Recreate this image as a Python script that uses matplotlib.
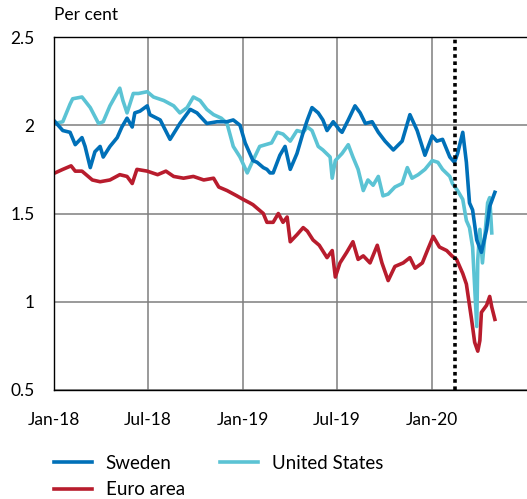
import matplotlib
matplotlib.use("Agg")
import matplotlib.pyplot as plt
import pandas as pd

plt.rcParams['font.family'] = ['Lato', 'DejaVu Sans']

# ---- data (per cent) ----
sweden_dates = ['2018-01-03', '2018-01-18', '2018-02-01', '2018-02-11', '2018-02-24', '2018-03-02',
                '2018-03-12', '2018-03-21', '2018-03-31', '2018-04-06', '2018-04-19', '2018-05-03',
                '2018-05-12', '2018-05-22', '2018-06-01', '2018-06-06', '2018-06-16', '2018-06-30',
                '2018-07-05', '2018-07-25', '2018-08-13', '2018-09-01', '2018-09-21', '2018-10-04',
                '2018-10-23', '2018-11-12', '2018-12-01', '2018-12-13', '2018-12-26', '2019-01-05',
                '2019-01-14', '2019-01-20', '2019-01-28', '2019-02-09', '2019-02-16', '2019-02-22',
                '2019-02-28', '2019-03-13', '2019-03-23', '2019-04-02', '2019-04-15', '2019-04-27',
                '2019-05-05', '2019-05-14', '2019-05-26', '2019-06-04', '2019-06-12', '2019-06-24',
                '2019-07-07', '2019-07-11', '2019-07-23', '2019-08-05', '2019-08-15', '2019-08-25',
                '2019-09-07', '2019-09-19', '2019-10-02', '2019-10-18', '2019-11-04', '2019-11-19',
                '2019-12-03', '2019-12-18', '2020-01-01', '2020-01-10', '2020-01-21', '2020-02-04',
                '2020-02-13', '2020-02-19', '2020-02-29', '2020-03-07', '2020-03-13', '2020-03-19',
                '2020-03-27', '2020-04-05', '2020-04-15', '2020-04-21', '2020-05-01']
sweden = [2.02, 1.97, 1.96, 1.89, 1.93, 1.88, 1.76, 1.85, 1.88, 1.82, 1.88, 1.93,
          1.99, 2.04, 1.99, 2.07, 2.08, 2.11, 2.06, 2.03, 1.92, 2.01, 2.09, 2.07,
          2.01, 2.02, 2.02, 2.03, 2.00, 1.90, 1.84, 1.80, 1.79, 1.76, 1.75, 1.73,
          1.73, 1.83, 1.88, 1.75, 1.84, 1.96, 2.03, 2.10, 2.07, 2.03, 1.97, 2.02,
          1.97, 1.96, 2.03, 2.11, 2.07, 2.01, 2.02, 1.96, 1.91, 1.86, 1.91, 2.06,
          1.97, 1.83, 1.94, 1.91, 1.92, 1.82, 1.79, 1.84, 1.96, 1.79, 1.56, 1.52,
          1.35, 1.28, 1.41, 1.54, 1.62]

euro_dates = ['2018-01-03', '2018-01-18', '2018-02-03', '2018-02-11', '2018-02-24', '2018-03-16',
              '2018-03-31', '2018-04-19', '2018-05-08', '2018-05-22', '2018-06-01', '2018-06-10',
              '2018-06-30', '2018-07-20', '2018-08-05', '2018-08-20', '2018-09-08', '2018-09-27',
              '2018-10-17', '2018-11-05', '2018-11-15', '2018-12-01', '2018-12-20', '2019-01-01',
              '2019-01-14', '2019-01-20', '2019-02-09', '2019-02-16', '2019-02-28', '2019-03-10',
              '2019-03-19', '2019-03-27', '2019-04-02', '2019-04-15', '2019-04-27', '2019-05-05',
              '2019-05-16', '2019-05-28', '2019-06-12', '2019-06-22', '2019-06-28', '2019-07-07',
              '2019-07-20', '2019-08-01', '2019-08-11', '2019-08-21', '2019-09-03', '2019-09-17',
              '2019-09-26', '2019-10-08', '2019-10-21', '2019-11-06', '2019-11-19', '2019-11-29',
              '2019-12-13', '2019-12-24', '2020-01-03', '2020-01-15', '2020-01-29', '2020-02-08',
              '2020-02-17', '2020-02-29', '2020-03-07', '2020-03-17', '2020-03-23', '2020-03-29',
              '2020-04-02', '2020-04-05', '2020-04-15', '2020-04-21', '2020-04-25', '2020-05-01']
euro = [1.73, 1.75, 1.77, 1.74, 1.74, 1.69, 1.68, 1.69, 1.72, 1.71, 1.67, 1.75,
        1.74, 1.72, 1.74, 1.71, 1.70, 1.71, 1.69, 1.70, 1.65, 1.63, 1.60, 1.58,
        1.56, 1.55, 1.50, 1.45, 1.45, 1.50, 1.45, 1.48, 1.34, 1.38, 1.42, 1.40,
        1.35, 1.32, 1.25, 1.29, 1.14, 1.22, 1.28, 1.34, 1.24, 1.26, 1.22, 1.32,
        1.22, 1.12, 1.20, 1.22, 1.25, 1.19, 1.22, 1.30, 1.37, 1.31, 1.29, 1.26,
        1.24, 1.16, 1.10, 0.90, 0.77, 0.72, 0.78, 0.94, 0.98, 1.03, 0.97, 0.90]

us_dates = ['2018-01-03', '2018-01-18', '2018-02-01', '2018-02-06', '2018-02-24', '2018-03-12',
            '2018-03-28', '2018-04-06', '2018-04-19', '2018-05-08', '2018-05-14', '2018-05-22',
            '2018-06-03', '2018-06-13', '2018-06-30', '2018-07-12', '2018-08-01', '2018-08-20',
            '2018-09-01', '2018-09-15', '2018-09-27', '2018-10-10', '2018-10-23', '2018-11-05',
            '2018-11-20', '2018-12-01', '2018-12-13', '2018-12-26', '2019-01-09', '2019-01-20',
            '2019-02-02', '2019-02-25', '2019-03-08', '2019-03-19', '2019-04-02', '2019-04-15',
            '2019-04-27', '2019-05-05', '2019-05-14', '2019-05-26', '2019-06-04', '2019-06-18',
            '2019-06-22', '2019-06-28', '2019-07-11', '2019-07-23', '2019-08-01', '2019-08-11',
            '2019-08-21', '2019-08-30', '2019-09-09', '2019-09-19', '2019-09-28', '2019-10-08',
            '2019-10-21', '2019-11-04', '2019-11-14', '2019-11-23', '2019-12-05', '2019-12-18',
            '2020-01-01', '2020-01-12', '2020-01-21', '2020-02-04', '2020-02-09', '2020-02-19',
            '2020-02-29', '2020-03-07', '2020-03-13', '2020-03-19', '2020-03-27', '2020-03-29',
            '2020-04-02', '2020-04-07', '2020-04-11', '2020-04-17', '2020-04-21', '2020-04-25']
us = [2.01, 2.02, 2.12, 2.15, 2.16, 2.10, 2.01, 2.02, 2.11, 2.21, 2.14, 2.07,
      2.18, 2.18, 2.19, 2.16, 2.14, 2.11, 2.07, 2.10, 2.16, 2.14, 2.09, 2.06,
      2.04, 2.01, 1.88, 1.82, 1.73, 1.80, 1.88, 1.90, 1.96, 1.95, 1.91, 1.97,
      1.96, 1.99, 1.97, 1.88, 1.86, 1.82, 1.70, 1.80, 1.84, 1.89, 1.82, 1.75,
      1.63, 1.69, 1.66, 1.71, 1.60, 1.61, 1.65, 1.67, 1.76, 1.70, 1.72, 1.75,
      1.80, 1.79, 1.75, 1.71, 1.67, 1.63, 1.58, 1.46, 1.42, 1.31, 0.86, 1.24,
      1.41, 1.22, 1.35, 1.56, 1.59, 1.39]

event_date = '2020-02-14'
x_ticks = ['2018-01-01', '2018-07-01', '2019-01-01', '2019-07-01', '2020-01-01']
x_labels = ['Jan-18', 'Jul-18', 'Jan-19', 'Jul-19', 'Jan-20']
y_ticks = [0.5, 1, 1.5, 2, 2.5]
y_labels = ['0.5', '1', '1.5', '2', '2.5']

# ---- plot ----
fig = plt.figure(figsize=(5.27, 4.99), dpi=100)
ax = fig.add_axes([54 / 527, 1 - 390 / 499, 1 - 54 / 527, (390 - 37) / 499])

ax.plot(pd.to_datetime(us_dates), us, color='#5bc3d4', lw=2.6, label='United States')
ax.plot(pd.to_datetime(sweden_dates), sweden, color='#0070b8', lw=2.6, label='Sweden')
ax.plot(pd.to_datetime(euro_dates), euro, color='#b81c2d', lw=2.6, label='Euro area')
ax.axvline(pd.Timestamp(event_date), color='black', lw=2.6, linestyle=(0, (1, 1)))

ax.set_xlim(pd.Timestamp('2018-01-01'), pd.Timestamp('2020-07-02'))
ax.set_ylim(0.5, 2.5)
ax.set_xticks(pd.to_datetime(x_ticks))
ax.set_xticklabels(x_labels)
ax.set_yticks(y_ticks)
ax.set_yticklabels(y_labels)
ax.tick_params(axis='y', length=0, labelsize=12.5, pad=14)
ax.tick_params(axis='x', length=0, labelsize=12.5, pad=16)
ax.grid(True, color='#7f7f7f', lw=1.1)
ax.set_axisbelow(True)
for side in ['left', 'bottom', 'top']:
    ax.spines[side].set_color('black')
    ax.spines[side].set_linewidth(1.0)
ax.spines['right'].set_visible(False)

fig.text(54 / 527, 1 - 15 / 499, 'Per cent', fontsize=12.5, va='center', ha='left')

h, l = ax.get_legend_handles_labels()
order = [1, 2, 0]
fig.legend([h[i] for i in order], [l[i] for i in order], ncol=2,
           loc='upper left', bbox_to_anchor=(54 / 527, 1 - 455 / 499),
           frameon=False, fontsize=13.5, borderpad=0, borderaxespad=0,
           handlelength=2.0, handletextpad=0.75, columnspacing=1.9, labelspacing=0.5)

fig.savefig('out.png', dpi=100)
